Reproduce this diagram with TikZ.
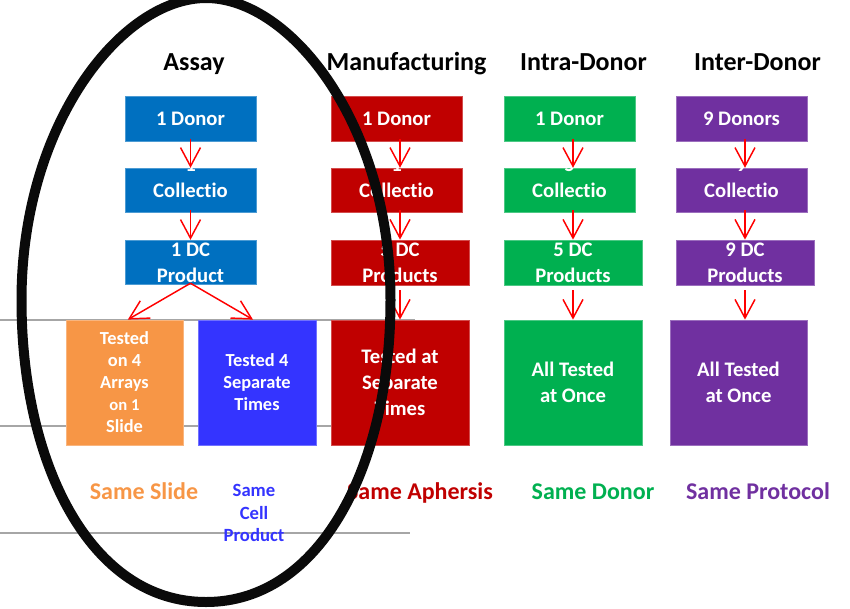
\documentclass[tikz,border=0pt]{standalone}
\usepackage{fontspec}
\setmainfont{Carlito}[Ligatures=NoCommon]
\usetikzlibrary{arrows.meta}

\definecolor{assayblue}{HTML}{0070C0}
\definecolor{cellblue}{HTML}{3434FF}
\definecolor{slideorange}{HTML}{F79646}
\definecolor{manured}{HTML}{C00000}
\definecolor{intragreen}{HTML}{00B050}
\definecolor{interpurple}{HTML}{7030A0}
\definecolor{arrowred}{HTML}{FF0000}
\definecolor{guidegray}{HTML}{A6A6A6}
\definecolor{ringblack}{HTML}{0A0A0A}

\begin{document}
\begin{tikzpicture}[x=0.75pt,y=-0.75pt,
  box/.style={fill=#1, draw=#1!70!white, line width=0.6pt, inner sep=0pt,
    text=white, align=center, font=\bfseries\fontsize{15.5}{19.5}\selectfont},
  boxtext/.style={inner sep=0pt, text=white, align=center,
    font=\bfseries\fontsize{15.5}{19.5}\selectfont},
  rowbox/.style={minimum width=98.25pt, minimum height=33.5pt},
  widebox/.style={minimum width=103.5pt, minimum height=33.75pt},
  tallbox/.style={minimum height=93.75pt},
  arr/.style={draw=arrowred, line width=1.1pt,
    -{Straight Barb[length=14pt,width=15pt]}},
  title/.style={anchor=base, font=\bfseries\fontsize{19.5}{23}\selectfont},
  tag/.style={anchor=base, text=#1, font=\bfseries\fontsize{18}{22}\selectfont},
  guide/.style={draw=guidegray, line width=1.5pt}
]
\useasboundingbox (0,0) rectangle (850,608);
\clip (0,0) rectangle (850,608);

% horizontal rules behind the boxes
\draw[guide] (0,320) -- (415,320);
\draw[guide] (0,426) -- (335,426);
\draw[guide] (0,533) -- (410,533);

% column headings
\node[title] (tA) at (194,70)   {Assay};
\node[title] (tM) at (406.5,70) {Manufacturing};
\node[title] (tI) at (583.5,70) {Intra-Donor};
\node[title] (tN) at (757.5,70) {Inter-Donor};

% Assay column
\node[box=assayblue, rowbox] (a1) at (190.5,119)   {1 Donor};
\node[box=assayblue, rowbox] (a2) at (190.5,190.5) {};
\node[boxtext] (a2t) at (a2.center) {1\\Collectio\\\phantom{n}};
\node[box=assayblue, rowbox] (a3) at (190.5,262.5) {1 DC\\Product};
\node[box=slideorange, tallbox, minimum width=87.75pt,
      font=\bfseries\fontsize{13.8}{16.5}\selectfont] (o4) at (124.5,382.5)
      {Tested\\on 4\\Arrays\\{\fontsize{12.5}{16.5}\selectfont on 1}\\Slide};
\node[box=cellblue, tallbox, minimum width=88.5pt,
      font=\bfseries\fontsize{13.8}{16.5}\selectfont] (b4) at (257,382.5)
      {Tested 4\\Separate\\Times};

% Manufacturing column
\node[box=manured, rowbox]  (m1) at (396.5,119)   {1 Donor};
\node[box=manured, rowbox]  (m2) at (396.5,190.5) {};
\node[boxtext] (m2t) at (m2.center) {1\\Collectio\\\phantom{n}};
\node[box=manured, widebox] (m3) at (400,262.5)   {5 DC\\Products};
\node[box=manured, tallbox, minimum width=103.5pt] (m4) at (400,382.5)
      {Tested at\\Separate\\Times};

% Intra-Donor column
\node[box=intragreen, rowbox]  (i1) at (569.5,119)   {1 Donor};
\node[box=intragreen, rowbox]  (i2) at (569.5,190.5) {};
\node[boxtext] (i2t) at (i2.center) {5\\Collectio\\\phantom{n}};
\node[box=intragreen, widebox] (i3) at (573,262.5)   {5 DC\\Products};
\node[box=intragreen, tallbox, minimum width=103.5pt] (i4) at (573,382.5)
      {All Tested\\at Once};

% Inter-Donor column
\node[box=interpurple, rowbox]  (n1) at (741.5,119)   {9 Donors};
\node[box=interpurple, rowbox]  (n2) at (741.5,190.5) {};
\node[boxtext] (n2t) at (n2.center) {9\\Collectio\\\phantom{n}};
\node[box=interpurple, widebox] (n3) at (745,262.5)   {9 DC\\Products};
\node[box=interpurple, tallbox, minimum width=102.75pt] (n4) at (738.5,382.5)
      {All Tested\\at Once};

% flow arrows
\draw[arr] ([yshift=2.25pt]a1.south) -- (a2.north);
\draw[arr] ([yshift=2.25pt]a2.south) -- (a3.north);
\draw[arr] ([yshift=1.5pt]a3.south) -- ([xshift=2.5pt]o4.north);
\draw[arr] ([yshift=1.5pt]a3.south) -- ([xshift=-3pt]b4.north);

\draw[arr] ([yshift=2.25pt]m1.south -| m3.south) -- (m2.north -| m3.south);
\draw[arr] ([yshift=2.25pt]m2.south -| m3.south) -- (m3.north);
\draw[arr] ([yshift=-3.75pt]m3.south) -- (m4.north);

\draw[arr] ([yshift=2.25pt]i1.south -| i3.south) -- (i2.north -| i3.south);
\draw[arr] ([yshift=2.25pt]i2.south -| i3.south) -- (i3.north);
\draw[arr] ([yshift=-3.75pt]i3.south) -- (i4.north);

\draw[arr] ([yshift=2.25pt]n1.south -| n3.south) -- (n2.north -| n3.south);
\draw[arr] ([yshift=2.25pt]n2.south -| n3.south) -- (n3.north);
\draw[arr] ([yshift=-3.75pt]n3.south) -- (n4.north -| n3.south);

% bottom captions
\node[tag=slideorange] (cS) at (144,499) {Same Slide};
\node[text=cellblue, align=center,
      font=\bfseries\fontsize{14}{17}\selectfont] (cC) at (254,513)
      {Same\\Cell\\Product};
\node[tag=manured]     (cM) at (420,499) {Same Aphersis};
\node[tag=intragreen]  (cI) at (593,499) {Same Donor};
\node[tag=interpurple] (cN) at (758,499) {Same Protocol};

% oval ring around the assay column, running off the top edge
\draw[ringblack, line width=7.5pt]
  (206,-2) .. controls (291,-2) and (390.5,125) .. (390.5,300)
           .. controls (390.5,465) and (321,602) .. (206,602)
           .. controls (91,602) and (21.5,465) .. (21.5,300)
           .. controls (21.5,125) and (121,-2) .. cycle;
\end{tikzpicture}
\end{document}
